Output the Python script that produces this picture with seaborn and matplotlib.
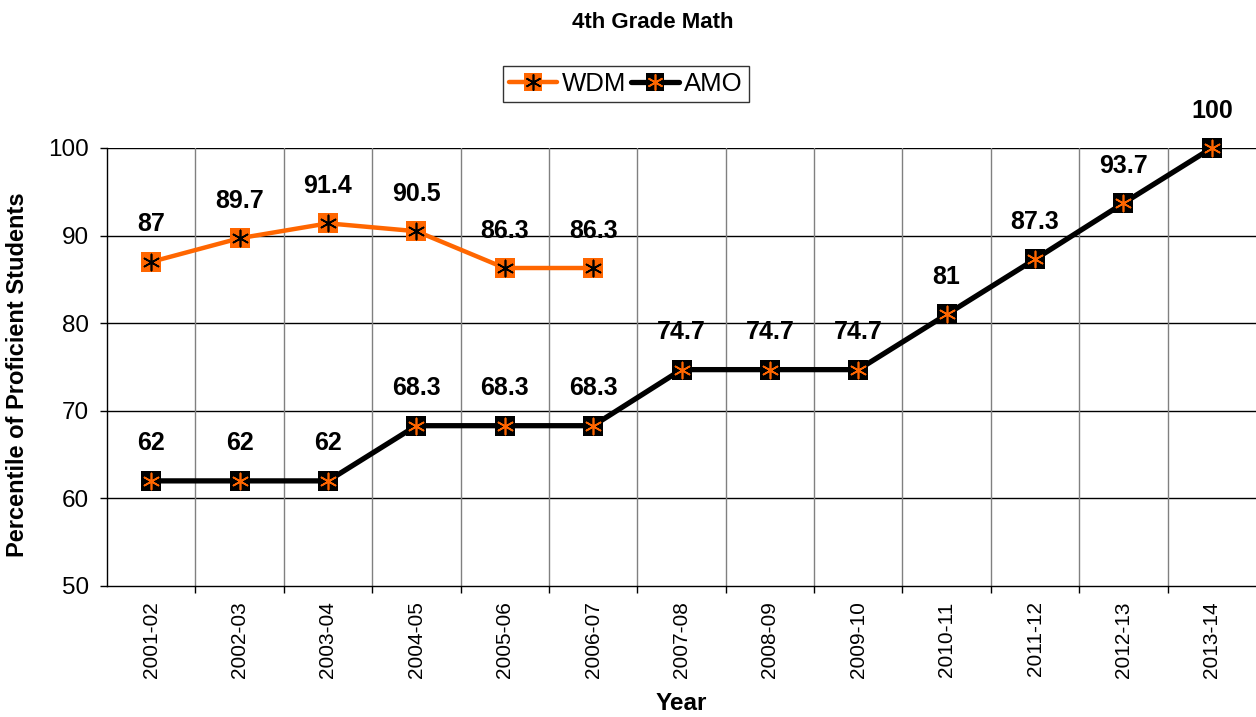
import numpy as np
import pandas as pd
import matplotlib
matplotlib.use("Agg")
import matplotlib.pyplot as plt
import seaborn as sns
from matplotlib.lines import Line2D

years = ['2001-02', '2002-03', '2003-04', '2004-05', '2005-06', '2006-07', '2007-08',
         '2008-09', '2009-10', '2010-11', '2011-12', '2012-13', '2013-14']
wdm = [87, 89.7, 91.4, 90.5, 86.3, 86.3]
amo = [62, 62, 62, 68.3, 68.3, 68.3, 74.7, 74.7, 74.7, 81, 87.3, 93.7, 100]

orange = '#FF6600'

sns.set_style("white")
plt.rcParams['font.family'] = ['Liberation Sans', 'DejaVu Sans']
plt.rcParams['text.color'] = 'black'
plt.rcParams['axes.labelcolor'] = 'black'
plt.rcParams['xtick.color'] = 'black'
plt.rcParams['ytick.color'] = 'black'

fig = plt.figure(figsize=(12.56, 7.17), dpi=100)
ax = fig.add_axes([107 / 1256, 1 - 586 / 717, 1 - 107 / 1256, (586 - 148) / 717])

pos = np.arange(len(years))
df_wdm = pd.DataFrame({'x': pos[:len(wdm)], 'y': wdm})
df_amo = pd.DataFrame({'x': pos, 'y': amo})

# lines
sns.lineplot(data=df_wdm, x='x', y='y', ax=ax, color=orange, lw=3.2, zorder=3, clip_on=False)
sns.lineplot(data=df_amo, x='x', y='y', ax=ax, color='black', lw=3.8, zorder=3, clip_on=False)

# square markers with an asterisk inside
star = (6, 2, 0)
ax.scatter(df_wdm['x'], df_wdm['y'], marker='s', s=190, color=orange, zorder=4, linewidths=0, clip_on=False)
ax.scatter(df_wdm['x'], df_wdm['y'], marker=star, s=135, color='black', zorder=5, linewidths=1.2, clip_on=False)
ax.scatter(df_amo['x'], df_amo['y'], marker='s', s=190, color='black', zorder=4, linewidths=0, clip_on=False)
ax.scatter(df_amo['x'], df_amo['y'], marker=star, s=135, color=orange, zorder=5, linewidths=1.2, clip_on=False)

for x, y in zip(list(df_wdm['x']) + list(df_amo['x']), wdm + amo):
    ax.annotate(f"{y:g}", (x, y), xytext=(0, 27), textcoords='offset points',
                ha='center', va='center', fontsize=18, fontweight='bold',
                annotation_clip=False)

ax.set_xlim(-0.5, len(years) - 0.5)
ax.set_ylim(50, 100)
ax.set_yticks([50, 60, 70, 80, 90, 100])
ax.tick_params(axis='y', labelsize=17.5, length=5, width=1, direction='out', left=True, pad=8)
ax.set_xticks(pos)
ax.set_xticklabels(years, rotation=90, fontsize=15)
ax.tick_params(axis='x', length=0, pad=11)
ax.set_xticks(pos[:-1] + 0.5, minor=True)
ax.tick_params(axis='x', which='minor', length=5, width=1, direction='out', bottom=True)

for y in [60, 70, 80, 90, 100]:
    ax.axhline(y, color='black', lw=1, zorder=1)
for x in pos[:-1] + 0.5:
    ax.axvline(x, color='#808080', lw=1, zorder=1)

for s in ['top', 'right']:
    ax.spines[s].set_visible(False)
for s in ['left', 'bottom']:
    ax.spines[s].set_color('black')
    ax.spines[s].set_linewidth(1)

ax.set_xlabel('Year', fontsize=17.5, fontweight='bold')
ax.set_ylabel('Percentile of Proficient Students', fontsize=17, fontweight='bold')
ax.xaxis.set_label_coords((681 - 107) / 1149, -(692 - 586) / 438)
ax.yaxis.set_label_coords(-(107 - 29) / 1149, (586 - 375) / 438)

fig.text(653 / 1256, 1 - 23 / 717, '4th Grade Math', ha='center', va='center',
         fontsize=16, fontweight='bold')

# legend
h1 = Line2D([], [], color=orange, lw=3.2, marker='s', markersize=13.5, markerfacecolor=orange, markeredgewidth=0)
h2 = Line2D([], [], color='black', lw=3.8, marker='s', markersize=13.5, markerfacecolor='black', markeredgewidth=0)
s1 = Line2D([], [], ls='none', marker=star, markersize=11.5, color='black', markeredgewidth=1.2)
s2 = Line2D([], [], ls='none', marker=star, markersize=11.5, color=orange, markeredgewidth=1.2)
leg = fig.legend([(h1, s1), (h2, s2)], ['WDM', 'AMO'], loc='center',
                 bbox_to_anchor=(626 / 1256, 1 - 84 / 717),
                 ncol=2, fontsize=18.5, frameon=True, fancybox=False, edgecolor='black',
                 handlelength=1.85, handletextpad=0.2, columnspacing=0.2, borderpad=0.25,
                 borderaxespad=0)
leg.get_frame().set_linewidth(1)

fig.savefig('out.png', dpi=100)
